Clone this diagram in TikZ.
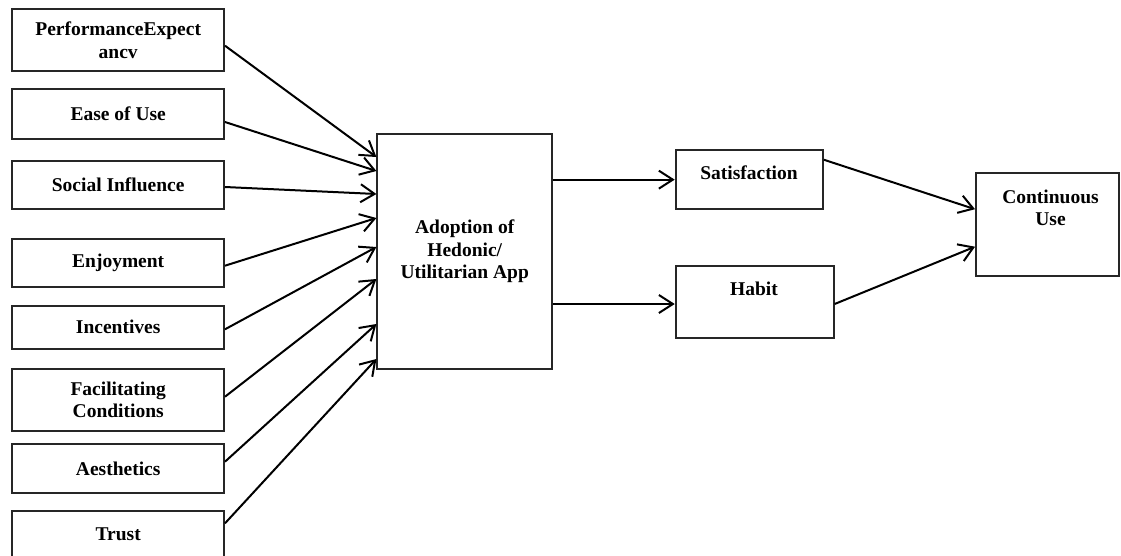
\documentclass[tikz,border=0pt]{standalone}
\usepackage{fontspec}
\setmainfont{Liberation Serif}
\usetikzlibrary{arrows.meta}
\begin{document}
\begin{tikzpicture}[x=1pt,y=-1pt,
 box/.style={draw=black!85,line width=1.9pt,inner sep=0pt,align=center,font=\bfseries\fontsize{19.5}{22.5}\selectfont},
 lbox/.style={box,minimum width=211.7pt},
 lbl/.style={inner sep=0pt,align=center,font=\bfseries\fontsize{19.5}{22.5}\selectfont},
 arr/.style={line width=2pt,-{Straight Barb[length=14pt,width=18pt]}}]
\useasboundingbox (0,0) rectangle (1121,555);
\clip (0,0) rectangle (1121,555);
% left boxes
\node[lbox,minimum height=61.4pt] (pe) at (118.2,40) {PerformanceExpect\\ancv};
\node[lbox,minimum height=49.7pt] (eu) at (118.2,114.2) {Ease of Use};
\node[lbox,minimum height=48.3pt] (si) at (118.2,185.2) {Social Influence};
\node[lbox,minimum height=48.3pt] (en) at (118.2,263.2) {Enjoyment};
\node[lbox,minimum height=43.3pt] (in) at (118.2,327.3) {Incentives};
\node[lbox,minimum height=62pt] (fc) at (118.2,400) {Facilitating\\Conditions};
\node[lbox,minimum height=48.4pt] (ae) at (118.2,468.5) {Aesthetics};
\node[lbox,minimum height=48pt] (tr) at (118.2,534.7) {Trust};
% central box
\node[box,minimum width=174.7pt,minimum height=234.7pt] (ado) at (464.7,251.3) {Adoption of\\Hedonic/\\Utilitarian App};
% right boxes
\node[box,minimum width=147.3pt,minimum height=59.3pt] (sat) at (749.3,179.65) {};
\node[lbl] (satt) at (749,172.5) {Satisfaction};
\node[box,minimum width=158pt,minimum height=72pt] (hab) at (754.7,302) {};
\node[lbl] (habt) at (754,288.5) {Habit};
\node[box,minimum width=143pt,minimum height=103pt] (cu) at (1047.5,224.2) {};
\node[lbl] (cut) at (1050.5,208) {Continuous\\Use};
% arrows into adoption
\draw[arr] ([yshift=-5.7pt]pe.east) -- ([yshift=-24pt]ado.north west);
\draw[arr] ([yshift=-7.8pt]eu.east) -- ([yshift=-38pt]ado.north west);
\draw[arr] ([yshift=-1.8pt]si.east) -- ([yshift=-61pt]ado.north west);
\draw[arr] ([yshift=-2.5pt]en.east) -- ([yshift=-85pt]ado.north west);
\draw[arr] ([yshift=-2pt]in.east) -- ([yshift=-114pt]ado.north west);
\draw[arr] ([yshift=3.3pt]fc.east) -- ([yshift=-146pt]ado.north west);
\draw[arr] ([yshift=6.8pt]ae.east) -- ([yshift=-191pt]ado.north west);
\draw[arr] ([yshift=11.4pt]tr.east) -- ([yshift=-226pt]ado.north west);
% adoption to satisfaction / habit
\draw[arr] (ado.east |- sat.west) -- (sat.west);
\draw[arr] ([yshift=-2pt]ado.east |- hab.west) -- ([yshift=-2pt]hab.west);
% to continuous use
\draw[arr] ([yshift=-10.7pt]sat.north east) -- ([yshift=15pt]cu.west);
\draw[arr] ([yshift=-2pt]hab.east) -- ([yshift=-22.5pt]cu.west);
\end{tikzpicture}
\end{document}
